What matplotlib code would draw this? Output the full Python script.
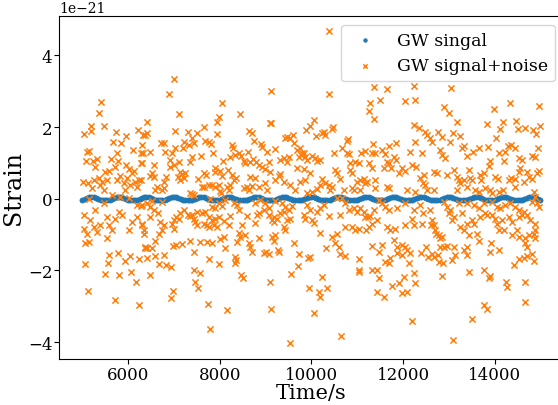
import matplotlib
matplotlib.use("Agg")
import matplotlib.pyplot as plt
import numpy as np

plt.rcParams['font.family'] = 'DejaVu Serif'

# GW signal, sampled every 50 s (strain in units of 1e-21)
signal_t = [
    5000, 5050, 5100, 5150, 5200, 5250, 5300, 5350, 5400, 5450, 5500, 5550,
    5600, 5650, 5700, 5750, 5800, 5850, 5900, 5950, 6000, 6050, 6100, 6150,
    6200, 6250, 6300, 6350, 6400, 6450, 6500, 6550, 6600, 6650, 6700, 6750,
    6800, 6850, 6900, 6950, 7000, 7050, 7100, 7150, 7200, 7250, 7300, 7350,
    7400, 7450, 7500, 7550, 7600, 7650, 7700, 7750, 7800, 7850, 7900, 7950,
    8000, 8050, 8100, 8150, 8200, 8250, 8300, 8350, 8400, 8450, 8500, 8550,
    8600, 8650, 8700, 8750, 8800, 8850, 8900, 8950, 9000, 9050, 9100, 9150,
    9200, 9250, 9300, 9350, 9400, 9450, 9500, 9550, 9600, 9650, 9700, 9750,
    9800, 9850, 9900, 9950, 10000, 10050, 10100, 10150, 10200, 10250, 10300, 10350,
    10400, 10450, 10500, 10550, 10600, 10650, 10700, 10750, 10800, 10850, 10900, 10950,
    11000, 11050, 11100, 11150, 11200, 11250, 11300, 11350, 11400, 11450, 11500, 11550,
    11600, 11650, 11700, 11750, 11800, 11850, 11900, 11950, 12000, 12050, 12100, 12150,
    12200, 12250, 12300, 12350, 12400, 12450, 12500, 12550, 12600, 12650, 12700, 12750,
    12800, 12850, 12900, 12950, 13000, 13050, 13100, 13150, 13200, 13250, 13300, 13350,
    13400, 13450, 13500, 13550, 13600, 13650, 13700, 13750, 13800, 13850, 13900, 13950,
    14000, 14050, 14100, 14150, 14200, 14250, 14300, 14350, 14400, 14450, 14500, 14550,
    14600, 14650, 14700, 14750, 14800, 14850, 14900, 14950, 15000,
]
signal_h = [
    -0.023, 0.0, 0.023, 0.039, 0.045, 0.039, 0.023, 0.0, -0.023, -0.039, -0.045, -0.039,
    -0.023, 0.0, 0.023, 0.039, 0.045, 0.039, 0.023, 0.0, -0.023, -0.039, -0.045, -0.039,
    -0.023, 0.0, 0.023, 0.039, 0.045, 0.039, 0.023, 0.0, -0.023, -0.039, -0.045, -0.039,
    -0.023, 0.0, 0.023, 0.039, 0.045, 0.039, 0.023, 0.0, -0.023, -0.039, -0.045, -0.039,
    -0.023, 0.0, 0.023, 0.039, 0.045, 0.039, 0.023, 0.0, -0.023, -0.039, -0.045, -0.039,
    -0.023, 0.0, 0.023, 0.039, 0.045, 0.039, 0.023, 0.0, -0.023, -0.039, -0.045, -0.039,
    -0.023, 0.0, 0.023, 0.039, 0.045, 0.039, 0.023, 0.0, -0.023, -0.039, -0.045, -0.039,
    -0.023, 0.0, 0.023, 0.039, 0.045, 0.039, 0.023, 0.0, -0.023, -0.039, -0.045, -0.039,
    -0.023, 0.0, 0.023, 0.039, 0.045, 0.039, 0.023, 0.0, -0.023, -0.039, -0.045, -0.039,
    -0.023, 0.0, 0.023, 0.039, 0.045, 0.039, 0.023, 0.0, -0.023, -0.039, -0.045, -0.039,
    -0.023, 0.0, 0.023, 0.039, 0.045, 0.039, 0.023, 0.0, -0.023, -0.039, -0.045, -0.039,
    -0.023, 0.0, 0.023, 0.039, 0.045, 0.039, 0.023, 0.0, -0.023, -0.039, -0.045, -0.039,
    -0.023, 0.0, 0.023, 0.039, 0.045, 0.039, 0.023, 0.0, -0.023, -0.039, -0.045, -0.039,
    -0.023, 0.0, 0.023, 0.039, 0.045, 0.039, 0.023, 0.0, -0.023, -0.039, -0.045, -0.039,
    -0.023, 0.0, 0.023, 0.039, 0.045, 0.039, 0.023, 0.0, -0.023, -0.039, -0.045, -0.039,
    -0.023, 0.0, 0.023, 0.039, 0.045, 0.039, 0.023, 0.0, -0.023, -0.039, -0.045, -0.039,
    -0.023, 0.0, 0.023, 0.039, 0.045, 0.039, 0.023, 0.0, -0.023,
]

# GW signal + noise (same units)
noise_t = [
    # 5000-6400
    5417, 5366, 5468, 5192, 5046, 5192,
    5744, 6210, 6326, 5955, 5672, 5853,
    5148, 5104, 5759, 6100, 6282, 5083, 5228, 5323, 5635, 5781, 5962, 6275,
    5286, 5708, 5577, 5490, 6013, 6122, 6086,
    5017, 5126, 5250, 5359, 5432, 5541, 5395, 5214, 5468, 5759, 5831, 5904, 5977, 6050, 6144, 6195, 6246, 5941, 5650,
    5155, 5831, 6013, 5468, 6195, 6282,
    5286, 5032, 5795, 5868, 5722, 6195, 6304,
    5177, 5541, 5395, 5250, 5323, 5577, 5650, 5032, 5104, 6013, 6086, 6340,
    5541, 5068, 5141,
    5592, 5773, 6050, 5941, 6231, 6377,
    5068, 5555, 5504, 5795, 6071, 6173,
    5126, 5722, 6231,
    # 6300-7700
    7002, 6886, 7104, 6406, 7664,
    6413, 6363, 7031, 7300, 7504, 7395, 7213, 7337, 7446, 7686, 6304,
    6726, 6777, 6326, 6472, 6813, 7031, 6959, 7191,
    7591, 7395, 7359, 6559, 6304, 6922, 6995, 7104, 6908,
    6522, 6573, 6486, 6835, 6791, 7126, 7177, 7213, 7140, 7249, 7082, 7518, 7649, 6283,
    6632, 6595, 6777, 6741, 7613, 7664, 7359, 7395, 7431,
    6304, 6413, 6522, 6741, 7213, 7300, 7344, 7395, 7431, 7504, 7613, 7686,
    6472, 6559, 6646, 6486, 7053, 6995, 7104, 7140,
    6304, 6355, 6704, 6777, 6741, 6668, 6959, 7010, 7468, 7504, 7649,
    6595, 6377, 6413, 6522, 6973, 7046, 7177, 7344, 7562, 7722,
    6413, 6595, 6791, 7431,
    6668, 6835, 6937, 7431, 7577, 6486,
    7468, 7526, 6973, 6937,
    # 7700-9100
    9119, 8051, 8450, 7992, 7941, 9090, 9126,
    7941, 8632, 8705, 8741, 7760, 7818, 8908, 8923, 8269, 8283, 7847, 9032, 8618,
    8065, 8232, 8341, 8414, 8472, 8559, 8538, 8668, 8727, 8799, 8850, 8923, 8981, 9068,
    7891, 7905, 8014, 8181, 8051, 8269, 8305, 8363, 8668, 8778, 9090,
    7709, 7760, 7832, 7905, 7978, 8014, 8160, 8232, 8196, 8523, 8596, 8632, 8705, 8850, 8996, 9032,
    7796, 8036, 8123, 7978, 7832, 7905, 8051, 8305, 8378, 8414, 8778, 8887, 8996, 9068, 8959, 8850, 8814,
    7760, 7832, 7905, 7978, 8087, 8232, 8596, 8778, 9068, 9141, 9177,
    7723, 7774, 7869, 7941, 8196, 8487, 8414, 8559, 8450, 8378, 8087, 8014, 7832, 8632, 8668, 8705, 8850, 8959, 9010, 9068, 9141, 9177,
    8123, 7760, 8327, 8363, 8327, 7978, 8472, 8501,
    9105, 7745, 8160, 9119, 7796,
    # 9100-10500
    10392, 10377,
    10050, 9977, 9890, 10101, 10472, 10450, 10268, 10305, 10232, 9469, 9432, 9599, 9541,
    9214, 9628, 9687, 9759, 9796, 9774, 9832, 9868, 9723, 9905, 10014, 10086, 10123, 10196, 10501, 9323, 9396, 9469, 9505,
    9309, 9287, 9687, 9832, 9977, 9868, 9759, 9396, 9214, 9541, 9650, 10232, 10305, 10377, 10414, 10450, 10181, 10123, 10014, 9905,
    9214, 9359, 9432, 9505, 9578, 9396, 9323, 9250, 9192, 9469, 9541, 9905, 9977, 10196, 10268, 10123, 9832, 9868, 10014, 10050, 10377,
    9396, 9432, 10181, 9214, 10450, 9614, 9265, 9287, 9723, 9977, 9919, 10326,
    9701, 9556, 10232, 9941, 10159, 10196, 10341, 10050, 9527,
    # 10500-11950
    11374, 11650, 11286, 11504, 11250, 11359,
    10799, 10777, 11345, 11686, 11853, 10668, 10777, 10828, 11090, 11163, 11323, 11395, 11541, 11614, 11795, 11650, 11701, 11846,
    10959, 11032, 10850, 11250, 11323, 11577, 11744, 11904, 10523, 10559, 10632,
    10850, 10887, 10996, 11068, 11141, 11177, 11214, 11395, 11650, 11686, 10705, 10887, 10923, 11068, 11395,
    10559, 10668, 10741, 10814, 10923, 10996, 11068, 11141, 11177, 11228, 11286, 11359, 11468, 11541, 11614, 11686, 11868,
    10632, 10727, 10887, 10959, 11032, 11192, 11250, 11323, 11432, 11650, 11723, 11832,
    10559, 10523, 10596, 10632, 10741, 11323, 11541, 11795, 11868, 11468, 11723, 11614, 11686, 11868, 11032,
    11032, 11046, 11323, 11432, 11468, 11904, 11759, 11432, 11577, 10654,
    # 11950-13350
    12233, 13054, 12051, 12269, 12887, 12996, 13178,
    12247, 12342, 12487, 12524, 12582, 12633, 12756, 12851, 13033, 13091, 13251, 12269, 12160, 12415, 12800, 12851, 12923, 13287, 13323,
    11978, 12051, 12196, 12291, 12378, 12465, 12436, 12487, 12669, 12742, 12684, 12524, 12960, 13105, 13178, 13214, 13251, 13323, 13178, 12087, 12269,
    12051, 12378, 12233, 12436, 12596, 12887, 12960, 13033, 12996, 13105, 13069, 13287, 13214, 12196, 12051, 12233,
    12415, 12633, 12611, 12669, 12705, 12727, 12778, 12800, 12851, 12814, 12887, 12960, 13105, 13251, 13323,
    11978, 12051, 12087, 12160, 12124, 11978, 12393, 12509, 12538, 12633, 12669, 12756, 12778, 12872, 13069, 13142, 13323,
    12233, 12269, 12015, 12087, 11978, 12851, 12196, 13091,
    # 13350-15000
    14341, 14974, 13978, 13833, 14174, 14465, 14123, 14509, 14654, 14829, 14981, 14901, 14029,
    13651, 13854, 13520, 14087, 14232, 14291, 14363, 14436, 14523, 14596, 14814, 14887, 14945, 14196, 13905, 13869, 13396,
    13433, 13469, 13505, 13687, 13709, 13760, 14014, 14072, 14305, 14363, 14436, 14523, 14560, 14705, 14741,
    14814, 14923, 14974, 14632, 13396, 13564, 13651, 13782, 13905, 13942, 14087, 14174, 14451, 14850, 14887,
    13396, 13542, 13651, 13760, 13942, 14051, 14123, 14218, 14341, 14451, 14523, 14632, 14814, 14923, 14959,
    13505, 13542, 13687, 13796, 13833, 13942, 14014, 14051, 14160, 14196, 14087, 14305, 14378,
    14523, 14596, 14705, 14778, 14887, 14872, 14741, 14669, 14487, 14523, 14378, 13396,
    13447, 13614, 13651, 13396, 13927, 13905, 14087, 14669, 14705, 14814, 14850, 14887, 13396,
    14414, 14523, 14632, 14705, 14850, 13433, 13760, 13869, 13905, 14669, 14247, 14269, 14669, 13760, 13833, 13505,
]
noise_h = [
    # 5000-6400
    2.69, 2.39, 2.04, 2.04, 1.81, 1.89,
    1.87, 1.92, 1.78, 1.75, 1.59, 1.56,
    1.33, 1.31, 1.27, 1.36, 1.27, 1.05, 1.05, 1.10, 1.10, 1.05, 0.94, 0.99,
    0.88, 0.88, 0.78, 0.76, 0.82, 0.78, 0.71,
    0.48, 0.45, 0.52, 0.57, 0.48, 0.52, 0.38, 0.29, 0.24, 0.52, 0.63, 0.43, 0.57, 0.38, 0.48, 0.34, 0.52, 0.24, 0.10,
    -0.01, 0.06, 0.01, -0.13, -0.16, -0.20,
    -0.31, -0.45, -0.36, -0.45, -0.55, -0.50, -0.69,
    -0.59, -0.50, -0.73, -0.78, -0.92, -0.73, -0.87, -0.83, -0.97, -0.87, -0.64, -0.97,
    -1.10, -1.24, -1.20,
    -1.57, -1.50, -1.60, -1.74, -1.69, -1.36,
    -1.83, -1.78, -2.10, -2.13, -2.03, -2.33,
    -2.56, -2.81, -2.96,
    # 6300-7700
    3.33, 2.92, 2.36, 2.15, 2.01,
    1.83, 1.78, 1.89, 1.87, 1.83, 1.69, 1.59, 1.50, 1.56, 1.62, 1.50,
    1.56, 1.56, 1.29, 1.30, 1.31, 1.43, 1.27, 1.41,
    1.19, 1.17, 1.03, 0.94, 0.99, 1.08, 0.94, 1.03, 0.88,
    0.71, 0.62, 0.63, 0.62, 0.48, 0.76, 0.69, 0.57, 0.52, 0.71, 0.62, 0.54, 0.71, 0.52,
    0.34, 0.24, 0.29, 0.24, 0.34, 0.32, 0.15, 0.13, 0.10,
    -0.17, -0.13, -0.05, -0.08, -0.31, -0.45, -0.48, -0.45, -0.55, -0.36, -0.41, -0.36,
    -0.22, -0.31, -0.41, -0.50, -0.50, -0.59, -0.55, -0.41,
    -0.73, -0.87, -0.64, -0.73, -0.87, -0.97, -0.69, -0.83, -0.64, -0.73, -0.69,
    -1.17, -1.34, -1.38, -1.38, -1.31, -1.29, -1.27, -1.18, -1.20, -1.20,
    -1.66, -1.60, -1.57, -1.48,
    -1.82, -1.85, -1.90, -1.99, -2.08, -2.13,
    -2.33, -2.48, -2.56, -2.78,
    # 7700-9100
    3.02, 2.68, 2.36, 2.29, 2.15, 2.12, 2.12,
    1.81, 1.89, 1.84, 1.62, 1.59, 1.53, 1.52, 1.45, 1.50, 1.41, 1.27, 1.31, 1.30,
    1.05, 1.17, 1.22, 1.27, 1.19, 0.99, 1.06, 1.03, 1.10, 1.03, 0.94, 0.90, 0.82, 1.03,
    0.85, 0.76, 0.77, 0.80, 0.63, 0.66, 0.52, 0.57, 0.60, 0.57, 0.76,
    0.66, 0.38, 0.38, 0.34, 0.38, 0.23, 0.32, 0.38, 0.24, 0.29, 0.34, 0.24, 0.36, 0.32, 0.43, 0.24,
    0.00, 0.15, -0.02, -0.13, -0.22, -0.27, -0.20, -0.13, -0.17, -0.30, -0.11, -0.02, -0.13, -0.27, -0.31, -0.41, -0.45,
    -0.50, -0.59, -0.55, -0.50, -0.61, -0.48, -0.48, -0.67, -0.45, -0.59, -0.50,
    -0.73, -0.78, -0.73, -0.80, -0.73, -0.73, -0.95, -1.01, -1.06, -1.20, -1.06, -1.13, -1.23, -1.24, -1.34, -1.48, -1.10, -1.52, -1.48, -1.54, -1.06, -1.17,
    -1.36, -1.68, -1.62, -1.71, -1.80, -1.83, -2.13, -2.22,
    -2.33, -2.94, -3.10, -3.08, -3.62,
    # 9100-10500
    4.69, 2.92,
    2.20, 2.03, 1.92, 1.75, 1.99, 1.94, 1.87, 1.78, 1.84, 1.73, 1.69, 1.78, 1.71,
    1.38, 1.55, 1.36, 1.41, 1.29, 1.22, 1.27, 1.17, 1.16, 1.08, 1.19, 1.13, 1.06, 1.08, 1.27, 1.08, 1.13, 1.03, 1.17,
    0.68, 0.63, 0.85, 0.82, 0.71, 0.52, 0.48, 0.48, 0.52, 0.38, 0.24, 0.55, 0.43, 0.38, 0.24, 0.32, 0.38, 0.26, 0.20, 0.15,
    -0.05, -0.13, -0.24, -0.31, -0.20, -0.36, -0.41, -0.55, -0.64, -0.59, -0.55, -0.17, -0.30, -0.27, -0.17, -0.36, -0.45, -0.55, -0.59, -0.67, -0.47,
    -0.78, -0.87, -0.95, -1.01, -1.06, -1.24, -1.43, -1.48, -1.54, -1.62, -1.66, -1.38,
    -1.88, -2.10, -2.17, -2.50, -2.59, -2.73, -2.50, -3.18, -4.02,
    # 10500-11950
    3.13, 3.05, 2.68, 2.77, 2.45, 2.24,
    1.66, 1.62, 1.52, 1.47, 1.55, 1.41, 1.29, 1.25, 1.27, 1.33, 1.29, 1.27, 1.36, 1.25, 1.17, 1.03, 0.99, 1.08,
    1.03, 0.99, 0.99, 0.99, 0.85, 0.85, 0.85, 0.71, 0.80, 0.73, 0.54,
    0.80, 0.71, 0.48, 0.52, 0.54, 0.43, 0.48, 0.52, 0.34, 0.29, 0.24, 0.29, 0.24, 0.24, 0.29,
    0.01, 0.01, -0.13, -0.31, -0.27, -0.36, -0.27, -0.36, -0.50, -0.50, -0.48, -0.31, -0.02, -0.13, -0.22, -0.31, -0.27,
    -0.45, -0.78, -0.78, -0.87, -0.83, -0.87, -0.80, -0.69, -0.59, -0.78, -0.87, -0.83,
    -0.97, -1.24, -1.34, -1.54, -1.60, -1.32, -1.29, -1.15, -1.34, -1.48, -1.66, -1.77, -1.78, -1.52, -1.69,
    -1.99, -2.03, -1.99, -1.99, -2.22, -2.36, -2.43, -2.59, -2.73, -3.83,
    # 11950-13350
    3.15, 3.08, 2.74, 2.77, 2.55, 2.40, 2.15,
    2.06, 1.98, 1.87, 1.78, 1.71, 1.59, 1.87, 1.73, 1.59, 1.84, 1.75, 1.59, 1.31, 1.27, 1.36, 1.22, 1.13, 1.41, 1.47,
    0.85, 0.78, 0.94, 0.88, 0.57, 0.66, 0.43, 0.38, 0.76, 0.71, 0.24, 0.24, 0.66, 0.80, 0.62, 0.52, 0.43, 0.52, 0.24, 0.24, 0.20,
    -0.13, -0.17, -0.31, -0.39, -0.31, -0.08, -0.22, -0.31, -0.41, -0.50, -0.59, -0.39, -0.13, -0.55, -0.73, -0.73,
    -0.69, -0.59, -0.73, -0.73, -0.87, -0.97, -1.01, -1.10, -1.06, -1.34, -1.34, -1.32, -1.34, -0.78, -0.87,
    -1.29, -1.34, -1.43, -1.52, -1.80, -1.57, -1.52, -1.34, -1.62, -1.54, -1.63, -1.57, -1.76, -1.80, -1.71, -1.57, -1.43,
    -2.08, -2.36, -2.17, -2.59, -2.64, -2.16, -3.40, -3.94,
    # 13350-15000
    2.66, 2.59, 2.50, 2.08, 2.15, 2.18, 1.94, 1.94, 1.98, 1.92, 2.03, 1.81, 1.70,
    1.41, 1.45, 1.31, 1.27, 1.31, 1.47, 1.50, 1.43, 1.13, 1.08, 1.19, 1.16, 1.41, 1.05, 1.06, 0.91, 1.19,
    0.80, 0.57, 0.52, 0.66, 0.52, 0.71, 0.62, 0.55, 0.52, 0.57, 0.54, 0.76, 0.85, 0.76, 0.62,
    0.54, 0.71, 0.78, 0.48, 0.34, 0.24, 0.20, 0.29, 0.24, 0.15, 0.20, 0.24, 0.34, 0.20, 0.06,
    -0.13, -0.17, -0.27, -0.13, -0.08, -0.22, -0.27, -0.17, -0.13, -0.22, -0.31, -0.36, -0.08, -0.13, -0.22,
    -0.59, -0.69, -0.50, -0.41, -0.45, -0.45, -0.55, -0.69, -0.59, -0.87, -0.87, -0.50, -0.64,
    -0.50, -0.45, -0.45, -0.59, -0.69, -0.87, -1.01, -1.10, -0.87, -1.06, -1.01, -0.69,
    -1.01, -0.97, -1.17, -1.34, -1.24, -1.48, -1.43, -1.23, -1.34, -1.54, -0.97, -1.10, -1.57,
    -1.85, -1.69, -1.66, -1.60, -1.73, -2.03, -1.99, -2.22, -2.16, -2.31, -2.31, -2.47, -2.87, -2.96, -3.08, -3.36,
]

scale = 1e-21
sig_t = np.array(signal_t)
sig_h = np.array(signal_h) * scale
obs_t = np.array(noise_t)
obs_h = np.array(noise_h) * scale

fig = plt.figure(figsize=(5.58, 4.06), dpi=100)
ax = fig.add_axes([0.1063, 0.1133, 0.9034, 0.8448])

ax.scatter(sig_t, sig_h, marker='.', s=55, linewidths=0.5, color='#1f77b4', label='GW singal')
ax.scatter(obs_t, obs_h, marker='x', s=20, linewidths=1.1, color='#ff7f0e', label='GW signal+noise')

ax.set_xlim(4500, 15500)
ax.set_ylim(-4.47e-21, 5.10e-21)
ax.set_xticks([6000, 8000, 10000, 12000, 14000])
ax.set_yticks(np.array([-4, -2, 0, 2, 4]) * scale)
ax.tick_params(labelsize=12, pad=1.5)
ax.yaxis.get_offset_text().set_fontsize(10)

ax.set_xlabel('Time/s', fontsize=15)
ax.xaxis.set_label_coords(0.5, -0.0714)
ax.set_ylabel('Strain', fontsize=17, labelpad=2)
ax.legend(loc='upper right', fontsize=12.5, markerscale=0.7)

fig.savefig('out.png', dpi=100)
